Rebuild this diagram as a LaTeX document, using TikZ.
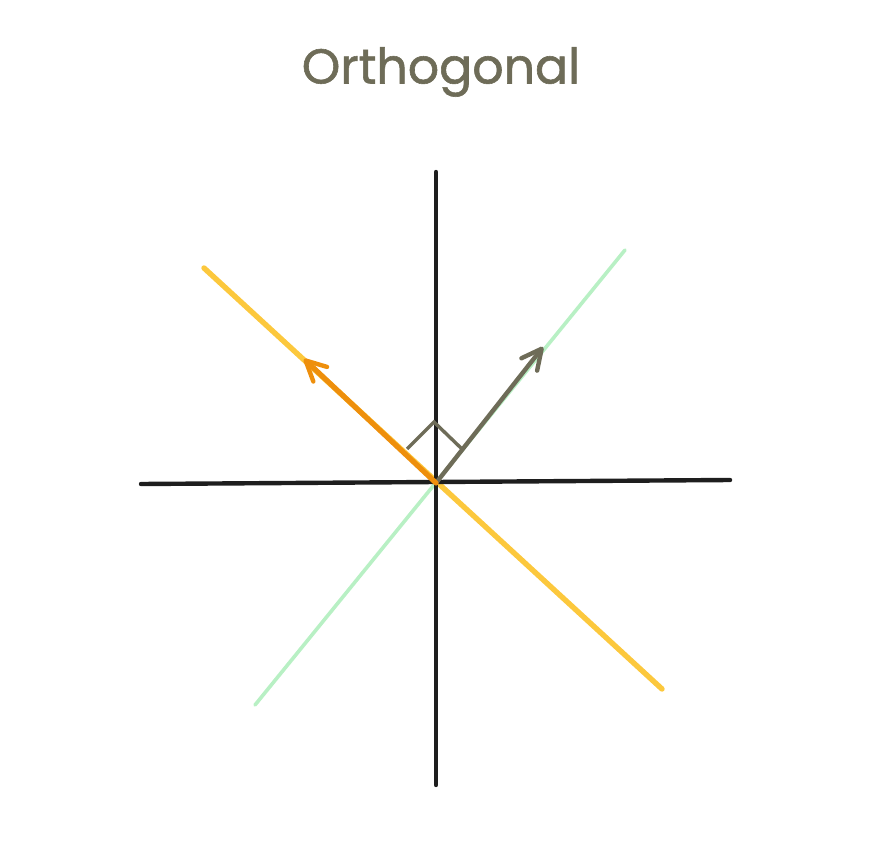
\documentclass[tikz,border=0pt]{standalone}
\usepackage{fontspec}
\setmainfont{Poppins}
\newfontfamily\titlefont[FakeBold=1.2]{Poppins}
\usetikzlibrary{arrows.meta}
\definecolor{axis}{HTML}{1E1E1E}
\definecolor{greyvec}{HTML}{6E6C58}
\definecolor{orangevec}{HTML}{EE8F0C}
\definecolor{yellowline}{HTML}{FCC83D}
\definecolor{greenline}{HTML}{B8F0C4}
\tikzset{
  axisline/.style={draw=axis, line width=4.4pt, line cap=round},
  guide/.style={line cap=round},
  vec/.style={line width=4.4pt, line cap=round, line join=round, -{Straight Barb[length=20pt,width=20pt,line width=4.4pt, round]}},
}
\begin{document}
\begin{tikzpicture}[x=1pt,y=-1pt]
\useasboundingbox (0,0) rectangle (888,866);
\node[text=greyvec, font=\titlefont\fontsize{49}{56}\selectfont] (title) at (441,72) {Orthogonal};
\coordinate (O) at (436,483);
\coordinate (vtop) at (436,172);
\coordinate (vbot) at (436,785);
\coordinate (hl) at (141,484);
\coordinate (hr) at (730,480);
\coordinate (g1) at (255,705);
\coordinate (g2) at (625,250);
\coordinate (y1) at (204,268);
\coordinate (y2) at (662,689);
\coordinate (oa) at (304,359);
\coordinate (ga) at (543,347);
\coordinate (m1) at (407,449);
\coordinate (m2) at (434,422);
\coordinate (m3) at (462,449);
\draw[guide, draw=greenline, line width=3.6pt] (g1) -- (g2);
\draw[guide, draw=yellowline, line width=5.4pt] (y1) -- (y2);
\draw[axisline] (vtop) -- (vbot);
\draw[axisline] (hl) -- (hr);
\draw[draw=greyvec, line width=3.4pt, line join=miter] (m1) -- (m2) -- (m3);
\draw[vec, draw=greyvec] (O) -- (ga);
\draw[vec, draw=orangevec, line width=5.2pt] (O) -- (oa);
\end{tikzpicture}
\end{document}
